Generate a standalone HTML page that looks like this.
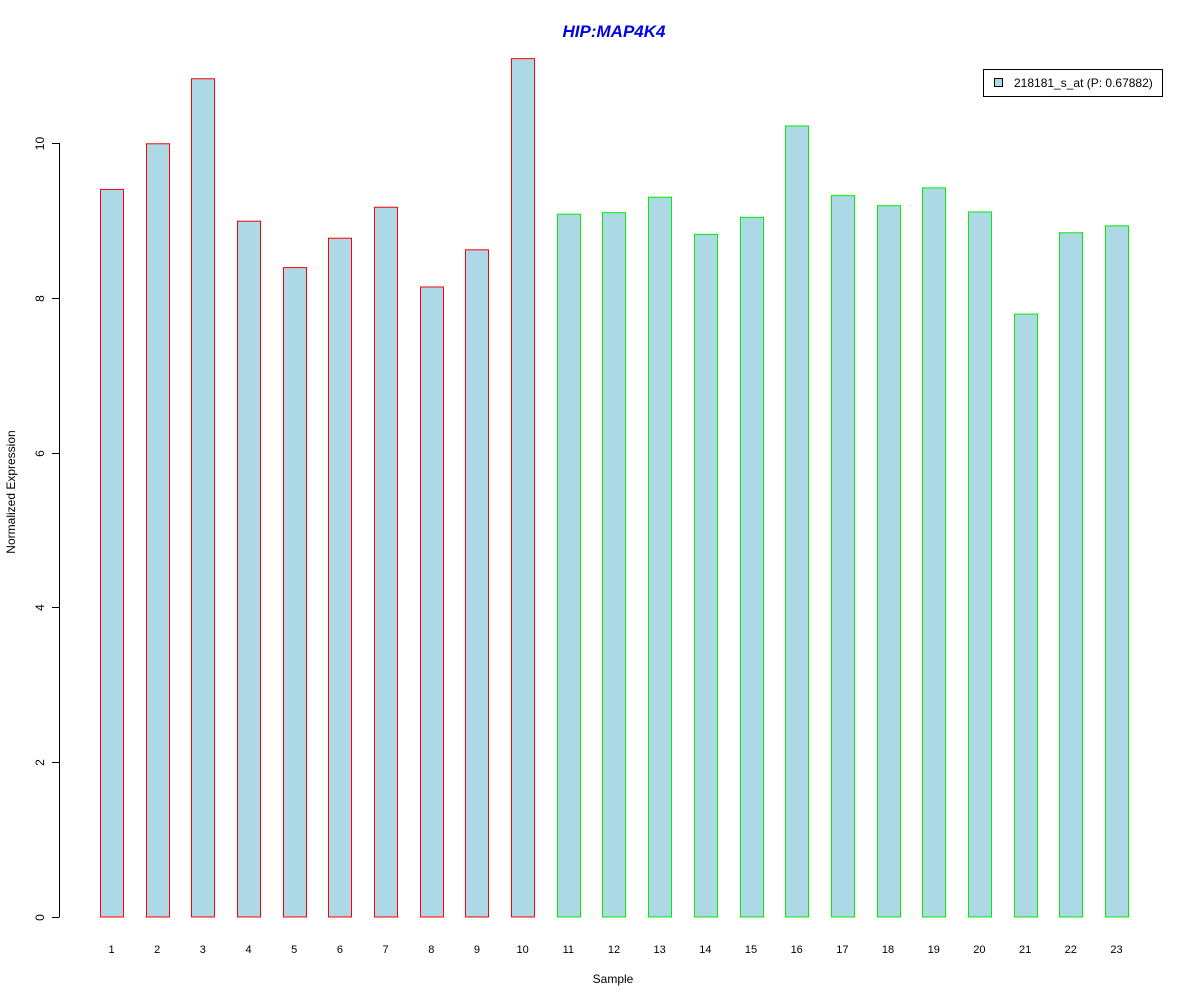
<!DOCTYPE html>
<html><head><meta charset="utf-8"><style>
body{margin:0;background:#fff;}
svg{display:block;font-family:"Liberation Sans",Arial,sans-serif;}
</style></head><body>
<svg id="chart" width="1200" height="1000">
<text x="614" y="37" text-anchor="middle" font-size="17" font-weight="bold" font-style="italic" fill="#0000ee">HIP:MAP4K4</text>
<text x="613" y="983" text-anchor="middle" font-size="12">Sample</text>
<text x="15" y="492" text-anchor="middle" font-size="12" transform="rotate(-90 15 492)">Normalized Expression</text>
<g>
<rect x="983.5" y="69.5" width="179" height="27" fill="#fff" stroke="#000"/>
<rect x="994.5" y="78.5" width="8" height="8" fill="#add8e6" stroke="#000"/>
<text x="1014" y="87" font-size="12">218181_s_at (P: 0.67882)</text>
</g>
<g id="yaxis"></g>
<g id="bars"></g>
<g id="xlabels"></g>
</svg>
<script>
const samples = ["1","2","3","4","5","6","7","8","9","10","11","12","13","14","15","16","17","18","19","20","21","22","23"];
const values = [9.40,9.99,10.83,8.99,8.39,8.77,9.17,8.14,8.62,11.09,9.08,9.10,9.30,8.82,9.04,10.22,9.32,9.19,9.42,9.11,7.79,8.84,8.93];
const groups = ["red","red","red","red","red","red","red","red","red","red","green","green","green","green","green","green","green","green","green","green","green","green","green"];
const yTicks = [0,2,4,6,8,10];
const yTickLabels = ["0","2","4","6","8","10"];

const NS = "http://www.w3.org/2000/svg";
const y0 = 917, yPerUnit = 77.4;
function yScale(v){ return y0 - v*yPerUnit; }
function xCenter(i){ return 111.5 + i*45.68; }
const barW = 23;
const strokeFor = {red:"#ff0000", green:"#00ee00"};

const ya = document.getElementById('yaxis');
const axisLine = document.createElementNS(NS,'line');


axisLine.setAttribute('x1',59.5); axisLine.setAttribute('x2',59.5);
axisLine.setAttribute('y1',yScale(yTicks[0])); axisLine.setAttribute('y2',yScale(yTicks[yTicks.length-1]));
axisLine.setAttribute('stroke','#000');
ya.appendChild(axisLine);
yTicks.forEach((t,i)=>{
  const y = Math.round(yScale(t))+0.5;
  const tk = document.createElementNS(NS,'line');
  
  
  tk.setAttribute('x1',52); tk.setAttribute('x2',59.5);
  tk.setAttribute('y1',y); tk.setAttribute('y2',y);
  tk.setAttribute('stroke','#000');
  ya.appendChild(tk);
  const lb = document.createElementNS(NS,'text');
  
  
  lb.setAttribute('x',44); lb.setAttribute('y',y);
  lb.setAttribute('font-size','12');
  lb.setAttribute('text-anchor','middle');
  lb.setAttribute('transform','rotate(-90 44 '+y+')');
  lb.textContent = yTickLabels[i];
  ya.appendChild(lb);
});

const bg = document.getElementById('bars');
const xl = document.getElementById('xlabels');
values.forEach((v,i)=>{
  const r = document.createElementNS(NS,'rect');
  
  
  const top = yScale(v);
  r.setAttribute('x', Math.round(xCenter(i)-barW/2)+0.5);
  r.setAttribute('y', top);
  r.setAttribute('width', barW);
  r.setAttribute('height', y0 - top);
  r.setAttribute('fill','#add8e6');
  r.setAttribute('stroke', strokeFor[groups[i]]);
  bg.appendChild(r);
  const t = document.createElementNS(NS,'text');
  
  
  t.setAttribute('x', xCenter(i));
  t.setAttribute('y', 953);
  t.setAttribute('font-size','11');
  t.setAttribute('text-anchor','middle');
  t.textContent = samples[i];
  xl.appendChild(t);
});
</script>
</body></html>
